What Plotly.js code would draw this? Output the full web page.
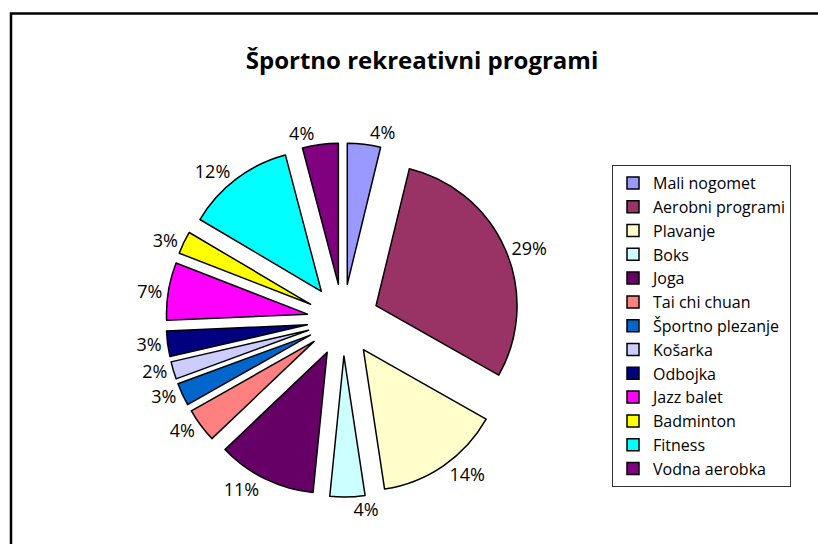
<!DOCTYPE html>
<html>
<head>
<meta charset="utf-8">
<script src="https://cdn.plot.ly/plotly-3.0.1.min.js"></script>
<style>
html, body { margin: 0; padding: 0; background: #fff; }
#chart { width: 818px; height: 544px; }
</style>
</head>
<body>
<div id="chart"></div>
<script>
// Data (share of participants, %)
const programs = ["Mali nogomet", "Aerobni programi", "Plavanje", "Boks", "Joga", "Tai chi chuan",
  "Športno plezanje", "Košarka", "Odbojka", "Jazz balet", "Badminton", "Fitness", "Vodna aerobka"];
const shares = [3.8, 29.4, 14.4, 4.0, 11.3, 3.9, 2.6, 2.0, 2.9, 6.6, 2.6, 12.4, 4.1];
const sliceColors = ["#9999FF", "#993366", "#FFFFCC", "#CCFFFF", "#660066", "#FF8080",
  "#0066CC", "#CCCCFF", "#000080", "#FF00FF", "#FFFF00", "#00FFFF", "#800080"];
const chartTitle = "Športno rekreativni programi";

const W = 818, H = 544;
const font = "'Open Sans', Lato, sans-serif";

const trace = {
  type: "pie",
  labels: programs,
  values: shares,
  sort: false,
  direction: "clockwise",
  rotation: 0,
  pull: programs.map(() => 0.255),
  marker: { colors: sliceColors, line: { color: "#000", width: 1.5 } },
  textposition: "outside",
  texttemplate: "%{percent:.0%}",
  textfont: { family: font, size: 18, color: "#000" },
  domain: { x: [166 / W, 520 / W], y: [1 - 497 / H, 1 - 143 / H] },
  hoverinfo: "label+percent"
};

const layout = {
  width: W, height: H,
  margin: { l: 0, r: 0, t: 0, b: 0 },
  paper_bgcolor: "#fff",
  title: {
    text: "<b>" + chartTitle + "</b>",
    font: { family: font, size: 24, color: "#000" },
    x: 422 / W, xanchor: "center",
    y: 1 - 61 / H, yanchor: "middle"
  },
  showlegend: true,
  legend: {
    x: 612 / W, xanchor: "left",
    y: 1 - 326 / H, yanchor: "middle",
    bordercolor: "#333", borderwidth: 1,
    bgcolor: "#fff",
    font: { family: font, size: 16, color: "#000" },
    traceorder: "normal"
  },
  shapes: [{
    type: "rect", xref: "paper", yref: "paper",
    x0: 11 / W, x1: 1.05, y0: -0.05, y1: 1 - 13.5 / H,
    line: { color: "#000", width: 2.5 }, fillcolor: "rgba(0,0,0,0)"
  }]
};

Plotly.newPlot("chart", [trace], layout, { displayModeBar: false, staticPlot: true });
</script>
</body>
</html>
